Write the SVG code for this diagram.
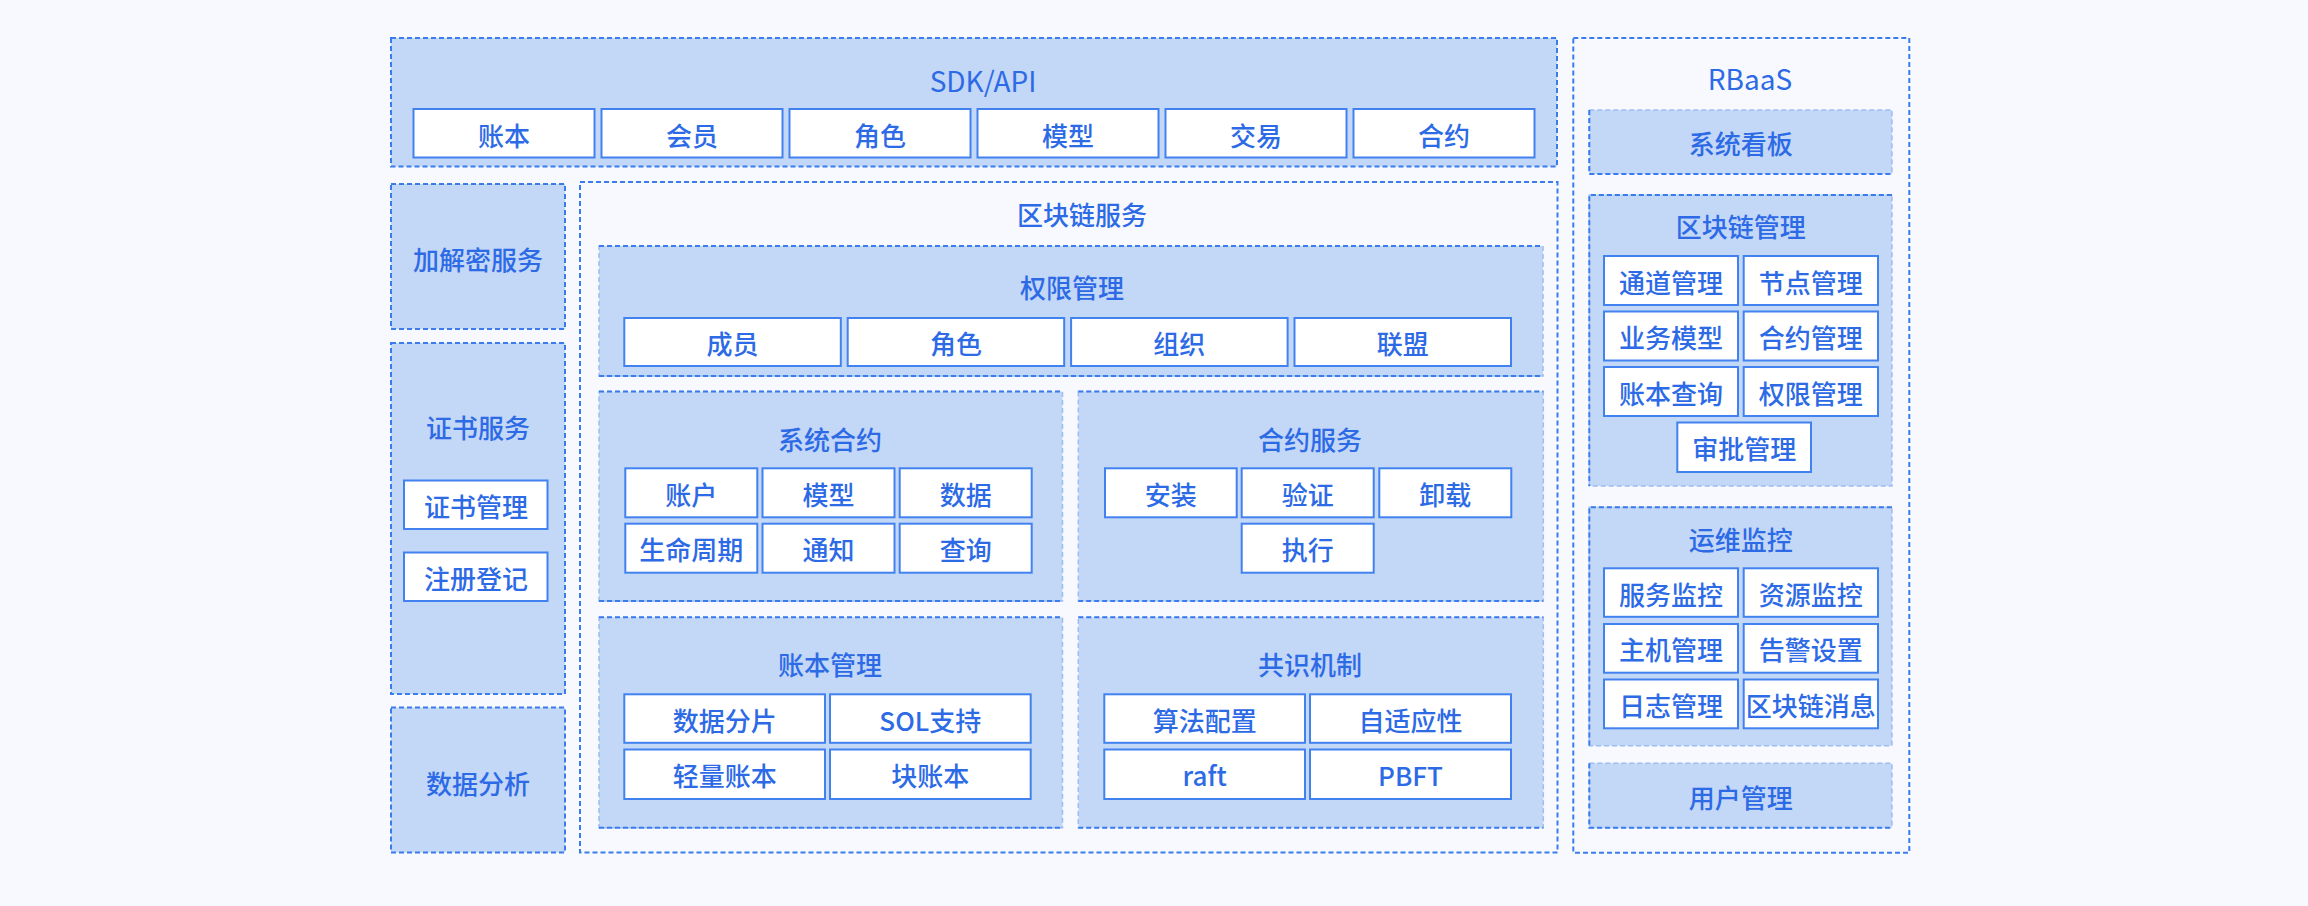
<svg xmlns="http://www.w3.org/2000/svg" width="2308" height="906" viewBox="0 0 2308 906">
<style>
text{font-family:"Noto Sans CJK SC","Noto Sans",sans-serif;font-size:26px;font-weight:500;fill:#2d6ae6;text-anchor:middle;dominant-baseline:central}
text.latin{font-size:28px;font-weight:400}
.outer{fill:#c3d7f7;stroke:#3b7ced;stroke-width:2;stroke-dasharray:5 3}
.bare{fill:none;stroke:#3b7ced;stroke-width:2;stroke-dasharray:5 3}
.panel{fill:#c3d7f7;stroke:#9dbcf3;stroke-width:1.5;stroke-dasharray:5 3}
.edge{fill:none;stroke:#3b7ced;stroke-width:2;stroke-dasharray:5 3}
.item{fill:#ffffff;stroke:#4282f0;stroke-width:2}
</style>
<rect x="0" y="0" width="2308" height="906" fill="#f7f9fe"/>

<g id="sdk-api">
<rect class="outer" x="391" y="38" width="1166" height="128.5"/>
<text class="latin" x="983" y="80">SDK/API</text>
<rect class="item" x="413.5" y="109" width="181" height="48.5"/><text x="504" y="134">账本</text>
<rect class="item" x="601.5" y="109" width="181" height="48.5"/><text x="692" y="134">会员</text>
<rect class="item" x="789.5" y="109" width="181" height="48.5"/><text x="880" y="134">角色</text>
<rect class="item" x="977.5" y="109" width="181" height="48.5"/><text x="1068" y="134">模型</text>
<rect class="item" x="1165.5" y="109" width="181" height="48.5"/><text x="1256" y="134">交易</text>
<rect class="item" x="1353.5" y="109" width="181" height="48.5"/><text x="1444" y="134">合约</text>
</g>

<g id="crypto-service">
<rect class="outer" x="391" y="184" width="174" height="145"/>
<text x="478" y="258">加解密服务</text>
</g>

<g id="cert-service">
<rect class="outer" x="391" y="343" width="174" height="351"/>
<text x="478" y="426">证书服务</text>
<rect class="item" x="404" y="480.5" width="143.5" height="48.5"/><text x="476" y="505">证书管理</text>
<rect class="item" x="404" y="552.5" width="143.5" height="48.5"/><text x="476" y="577">注册登记</text>
</g>

<g id="data-analysis">
<rect class="outer" x="391" y="707.5" width="174" height="145"/>
<text x="478" y="782">数据分析</text>
</g>

<g id="blockchain-service">
<rect class="bare" x="580" y="182" width="977.5" height="670.5"/>
<text x="1082" y="213">区块链服务</text>

<g id="permission-mgmt">
<rect class="panel" x="599" y="246" width="944" height="130"/>
<path class="edge" d="M599 246H1543M599 376H1543"/>
<text x="1072" y="286">权限管理</text>
<rect class="item" x="624.3" y="318" width="216.5" height="48"/><text x="732.5" y="342.5">成员</text>
<rect class="item" x="847.7" y="318" width="216.5" height="48"/><text x="956" y="342.5">角色</text>
<rect class="item" x="1071.1" y="318" width="216.5" height="48"/><text x="1179.3" y="342.5">组织</text>
<rect class="item" x="1294.5" y="318" width="216.5" height="48"/><text x="1402.7" y="342.5">联盟</text>
</g>

<g id="system-contract">
<rect class="panel" x="599" y="391.5" width="463.5" height="209.5"/>
<path class="edge" d="M599 391.5H1062.5M599 601H1062.5"/>
<text x="830" y="438.5">系统合约</text>
<rect class="item" x="625.3" y="468.3" width="132" height="49"/><text x="691.3" y="493.3">账户</text>
<rect class="item" x="762.5" y="468.3" width="132" height="49"/><text x="828.5" y="493.3">模型</text>
<rect class="item" x="899.7" y="468.3" width="132" height="49"/><text x="965.7" y="493.3">数据</text>
<rect class="item" x="625.3" y="523.7" width="132" height="49"/><text x="691.3" y="548.7">生命周期</text>
<rect class="item" x="762.5" y="523.7" width="132" height="49"/><text x="828.5" y="548.7">通知</text>
<rect class="item" x="899.7" y="523.7" width="132" height="49"/><text x="965.7" y="548.7">查询</text>
</g>

<g id="contract-service">
<rect class="panel" x="1078.3" y="391.5" width="465" height="209.5"/>
<path class="edge" d="M1078.3 391.5H1543.3M1078.3 601H1543.3"/>
<text x="1310" y="438.5">合约服务</text>
<rect class="item" x="1105" y="468.3" width="131.7" height="49"/><text x="1170.8" y="493.3">安装</text>
<rect class="item" x="1241.7" y="468.3" width="132" height="49"/><text x="1307.7" y="493.3">验证</text>
<rect class="item" x="1379.3" y="468.3" width="132" height="49"/><text x="1445.3" y="493.3">卸载</text>
<rect class="item" x="1241.7" y="523.7" width="132" height="49"/><text x="1307.7" y="548.7">执行</text>
</g>

<g id="ledger-mgmt">
<rect class="panel" x="599" y="617.3" width="463.5" height="210.4"/>
<path class="edge" d="M599 617.3H1062.5M599 827.7H1062.5"/>
<text x="830" y="663.5">账本管理</text>
<rect class="item" x="624.3" y="694.3" width="200.7" height="48.5"/><text x="724.7" y="719">数据分片</text>
<rect class="item" x="830" y="694.3" width="200.7" height="48.5"/><text x="930.3" y="719">SOL支持</text>
<rect class="item" x="624.3" y="749.5" width="200.7" height="49.5"/><text x="724.7" y="774.5">轻量账本</text>
<rect class="item" x="830" y="749.5" width="200.7" height="49.5"/><text x="930.3" y="774.5">块账本</text>
</g>

<g id="consensus">
<rect class="panel" x="1078.3" y="617.3" width="465" height="210.4"/>
<path class="edge" d="M1078.3 617.3H1543.3M1078.3 827.7H1543.3"/>
<text x="1310" y="663.5">共识机制</text>
<rect class="item" x="1104.3" y="694.3" width="200.7" height="48.5"/><text x="1204.7" y="719">算法配置</text>
<rect class="item" x="1310" y="694.3" width="201" height="48.5"/><text x="1410.5" y="719">自适应性</text>
<rect class="item" x="1104.3" y="749.5" width="200.7" height="49.5"/><text x="1204.7" y="774.5">raft</text>
<rect class="item" x="1310" y="749.5" width="201" height="49.5"/><text x="1410.5" y="774.5">PBFT</text>
</g>
</g>

<g id="rbaas">
<rect class="bare" x="1573.3" y="38" width="336" height="814.7"/>
<text class="latin" x="1750" y="78">RBaaS</text>

<g id="dashboard">
<rect class="panel" x="1589.3" y="110" width="302.7" height="64"/>
<path class="edge" d="M1589.3 110V174H1892"/>
<text x="1740.7" y="142">系统看板</text>
</g>

<g id="chain-mgmt">
<rect class="panel" x="1589.3" y="195" width="302.7" height="291"/>
<path class="edge" d="M1892 195H1589.3V486"/>
<text x="1740.7" y="225">区块链管理</text>
<rect class="item" x="1604" y="256" width="134" height="49"/><text x="1671" y="281">通道管理</text>
<rect class="item" x="1743.7" y="256" width="134.3" height="49"/><text x="1810.8" y="281">节点管理</text>
<rect class="item" x="1604" y="311.5" width="134" height="49"/><text x="1671" y="336.5">业务模型</text>
<rect class="item" x="1743.7" y="311.5" width="134.3" height="49"/><text x="1810.8" y="336.5">合约管理</text>
<rect class="item" x="1604" y="367" width="134" height="49"/><text x="1671" y="392">账本查询</text>
<rect class="item" x="1743.7" y="367" width="134.3" height="49"/><text x="1810.8" y="392">权限管理</text>
<rect class="item" x="1677.3" y="422.5" width="133.7" height="49.5"/><text x="1744.2" y="447.5">审批管理</text>
</g>

<g id="ops-monitor">
<rect class="panel" x="1589.3" y="507.3" width="302.7" height="238.4"/>
<path class="edge" d="M1892 507.3H1589.3V745.7"/>
<text x="1740.7" y="538">运维监控</text>
<rect class="item" x="1604" y="568.3" width="134" height="48.5"/><text x="1671" y="593">服务监控</text>
<rect class="item" x="1743.7" y="568.3" width="134.3" height="48.5"/><text x="1810.8" y="593">资源监控</text>
<rect class="item" x="1604" y="624" width="134" height="48.7"/><text x="1671" y="648.8">主机管理</text>
<rect class="item" x="1743.7" y="624" width="134.3" height="48.7"/><text x="1810.8" y="648.8">告警设置</text>
<rect class="item" x="1604" y="679.5" width="134" height="48.8"/><text x="1671" y="704.3">日志管理</text>
<rect class="item" x="1743.7" y="679.5" width="134.3" height="48.8"/><text x="1810.8" y="704.3">区块链消息</text>
</g>

<g id="user-mgmt">
<rect class="panel" x="1589.3" y="763.3" width="302.7" height="64.4"/>
<path class="edge" d="M1589.3 763.3V827.7H1892"/>
<text x="1740.7" y="796.5">用户管理</text>
</g>
</g>

<g id="connectors"></g>
</svg>
